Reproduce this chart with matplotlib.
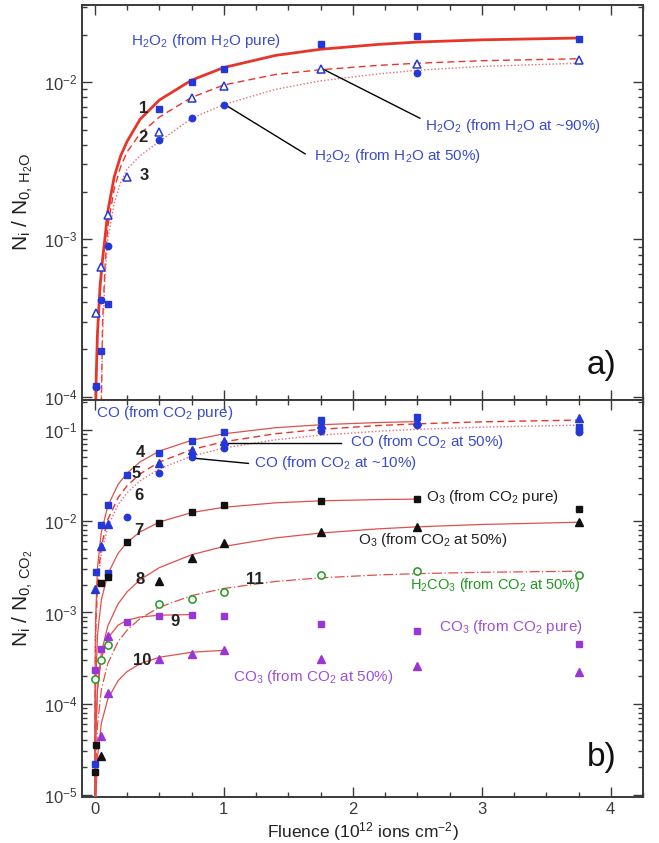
import matplotlib

matplotlib.use("Agg")
import matplotlib.pyplot as plt  # noqa: E402
from matplotlib.ticker import LogLocator, MultipleLocator, NullFormatter  # noqa: E402

plt.rcParams["font.family"] = ["Liberation Sans", "DejaVu Sans"]
plt.rcParams["mathtext.fontset"] = "custom"
plt.rcParams["mathtext.rm"] = "Liberation Sans"
plt.rcParams["mathtext.it"] = "Liberation Sans:italic"
plt.rcParams["mathtext.bf"] = "Liberation Sans:bold"
plt.rcParams["mathtext.default"] = "regular"

# ---- panel a) H2O2 data --------------------------------------------------
h2o2_pure_x = [0.005, 0.05, 0.1, 0.5, 0.75, 1.0, 1.75, 2.5, 3.75]
h2o2_pure_y = [1.16e-4, 1.94e-4, 3.9e-4, 6.8e-3, 1.0e-2, 1.22e-2, 1.76e-2, 1.98e-2, 1.89e-2]
h2o2_90_x = [0.005, 0.05, 0.1, 0.25, 0.5, 0.75, 1.0, 1.75, 2.5, 3.75]
h2o2_90_y = [3.38e-4, 6.7e-4, 1.43e-3, 2.48e-3, 4.8e-3, 7.9e-3, 9.4e-3, 1.22e-2, 1.31e-2, 1.39e-2]
h2o2_50_x = [0.005, 0.05, 0.1, 0.5, 0.75, 1.0, 2.5]
h2o2_50_y = [1.15e-4, 4.1e-4, 9.1e-4, 4.3e-3, 5.9e-3, 7.2e-3, 1.15e-2]

# fit curves 1-3
fit_top_x = [0.004, 0.01, 0.02, 0.04, 0.06, 0.08, 0.1, 0.15, 0.2, 0.25, 0.35, 0.5,
             0.75, 1.0, 1.4, 1.75, 2.2, 2.5, 3.0, 3.75]
fit1_y = [5e-5, 1.3e-4, 2.5e-4, 5e-4, 7.5e-4, 1.05e-3, 1.5e-3, 2.5e-3, 3.4e-3, 4.2e-3,
          5.8e-3, 7.7e-3, 1.03e-2, 1.24e-2, 1.48e-2, 1.62e-2, 1.74e-2, 1.8e-2, 1.86e-2, 1.91e-2]
fit2_x = [0.05, 0.06, 0.08, 0.1, 0.15, 0.2, 0.25, 0.35, 0.5, 0.75, 1.0, 1.4, 1.75, 2.2,
          2.5, 3.0, 3.75]
fit2_y = [9e-5, 3e-4, 7e-4, 1.2e-3, 2.1e-3, 2.9e-3, 3.6e-3, 4.7e-3, 6.0e-3, 8.0e-3, 9.6e-3,
          1.12e-2, 1.2e-2, 1.28e-2, 1.32e-2, 1.37e-2, 1.41e-2]
fit3_y = [9e-5, 2.5e-4, 6e-4, 1.0e-3, 1.7e-3, 2.3e-3, 2.8e-3, 3.4e-3, 4.2e-3, 5.9e-3,
          7.2e-3, 9.0e-3, 1.02e-2, 1.13e-2, 1.19e-2, 1.26e-2, 1.32e-2]

# ---- panel b) CO2 products -------------------------------------------------
co_pure_x = [0.0, 0.005, 0.05, 0.1, 0.1, 0.25, 0.5, 0.75, 1.0, 1.75, 2.5, 3.75, 3.75]
co_pure_y = [2.2e-5, 2.8e-3, 9.1e-3, 1.51e-2, 2.7e-3, 3.2e-2, 5.65e-2, 7.6e-2, 9.4e-2,
             0.13, 0.14, 0.108, 0.101]
co_50_x = [0.0, 0.05, 0.1, 0.5, 0.75, 1.0, 1.75, 2.5, 3.75]
co_50_y = [1.8e-3, 5.3e-3, 9.3e-3, 4.3e-2, 6.0e-2, 7.6e-2, 0.115, 0.125, 0.135]
co_10_x = [0.25, 0.5, 0.75, 1.0, 1.75, 2.5, 3.75]
co_10_y = [1.12e-2, 3.35e-2, 5.0e-2, 6.4e-2, 0.098, 0.112, 0.096]
o3_pure_x = [0.0, 0.005, 0.05, 0.1, 0.25, 0.5, 0.75, 1.0, 1.75, 2.5, 3.75]
o3_pure_y = [1.8e-5, 3.5e-5, 2.12e-3, 2.43e-3, 5.9e-3, 9.5e-3, 1.25e-2, 1.5e-2, 1.67e-2,
             1.75e-2, 1.36e-2]
o3_50_x = [0.05, 0.5, 0.75, 1.0, 1.75, 2.5, 3.75]
o3_50_y = [2.7e-5, 2.23e-3, 3.98e-3, 5.7e-3, 7.7e-3, 8.7e-3, 9.9e-3]
h2co3_x = [0.0, 0.05, 0.1, 0.5, 0.75, 1.0, 1.75, 2.5, 3.75]
h2co3_y = [1.87e-4, 3.0e-4, 4.4e-4, 1.23e-3, 1.41e-3, 1.69e-3, 2.55e-3, 2.87e-3, 2.58e-3]
co3_pure_x = [0.0, 0.05, 0.25, 0.5, 0.75, 1.0, 1.75, 2.5, 3.75]
co3_pure_y = [2.34e-4, 3.95e-4, 7.8e-4, 9.2e-4, 9.4e-4, 9.2e-4, 7.5e-4, 6.2e-4, 4.5e-4]
co3_50_x = [0.05, 0.1, 0.1, 0.5, 0.75, 1.0, 1.75, 2.5, 3.75]
co3_50_y = [4.4e-5, 1.3e-4, 5.5e-4, 3.07e-4, 3.5e-4, 3.9e-4, 3.07e-4, 2.6e-4, 2.2e-4]

# fit curves 4-11 (some stop early)
fit_bot_x = [0.00005, 0.0005, 0.005, 0.02, 0.05, 0.1, 0.18, 0.25, 0.35, 0.5, 0.75, 1.0,
             1.4, 1.75, 2.2, 2.5, 3.0, 3.75]
fit4_y = [7.8e-6, 7.8e-5, 7.8e-4, 3.08e-3, 7.57e-3, 1.47e-2, 2.53e-2, 3.37e-2, 4.46e-2,
          5.87e-2, 7.71e-2, 9.08e-2, 0.1058, 0.1141, 0.1207, 0.1235]
fit5_y = [5.4e-6, 5.4e-5, 5.39e-4, 2.14e-3, 5.29e-3, 1.04e-2, 1.81e-2, 2.45e-2, 3.30e-2,
          4.45e-2, 6.09e-2, 7.43e-2, 9.09e-2, 0.1017, 0.1118, 0.1167, 0.1228, 0.1283]
fit6_y = [4.5e-6, 4.5e-5, 4.49e-4, 1.79e-3, 4.42e-3, 8.68e-3, 1.52e-2, 2.05e-2, 2.77e-2,
          3.75e-2, 5.16e-2, 6.33e-2, 7.80e-2, 8.77e-2, 9.70e-2, 0.1016, 0.1074, 0.1128]
fit7_y = [1.42e-6, 1.42e-5, 1.42e-4, 5.6e-4, 1.37e-3, 2.63e-3, 4.45e-3, 5.87e-3, 7.63e-3,
          9.80e-3, 1.244e-2, 1.421e-2, 1.590e-2, 1.672e-2, 1.727e-2, 1.747e-2]
fit8_y = [3.7e-7, 3.7e-6, 3.67e-5, 1.46e-4, 3.61e-4, 7.10e-4, 1.243e-3, 1.685e-3, 2.28e-3,
          3.10e-3, 4.29e-3, 5.29e-3, 6.56e-3, 7.42e-3, 8.25e-3, 8.68e-3, 9.21e-3, 9.74e-3]
fit9_y = [3.8e-7, 3.8e-6, 3.73e-5, 1.405e-4, 3.13e-4, 5.23e-4, 7.25e-4, 8.21e-4, 8.92e-4,
          9.33e-4, 9.48e-4]
fit10_y = [6.6e-8, 6.6e-7, 6.55e-6, 2.56e-5, 6.08e-5, 1.124e-4, 1.79e-4, 2.25e-4, 2.74e-4,
           3.23e-4, 3.66e-4, 3.85e-4]
fit11_y = [1.45e-7, 1.45e-6, 1.45e-5, 5.74e-5, 1.42e-4, 2.76e-4, 4.78e-4, 6.41e-4, 8.56e-4,
           1.141e-3, 1.530e-3, 1.833e-3, 2.185e-3, 2.396e-3, 2.579e-3, 2.662e-3, 2.756e-3,
           2.832e-3]

BLUE = "#2438d8"
BLUE_TXT = "#3a4ccc"
PURPLE = "#9a35d8"
PURPLE_TXT = "#a050d8"
GREEN = "#1f9a1f"
RED = "#e8352a"
FIT_RED = "#e0504a"
GREY = "#3a3a3a"


def style_axes(ax, ylim):
    ax.set_yscale("log")
    ax.set_xlim(-0.1, 4.25)
    ax.set_ylim(*ylim)
    ax.xaxis.set_major_locator(MultipleLocator(1))
    ax.xaxis.set_minor_locator(MultipleLocator(0.25))
    ax.yaxis.set_major_locator(LogLocator(base=10, numticks=12))
    ax.yaxis.set_minor_locator(LogLocator(base=10, subs=range(2, 10), numticks=12))
    ax.yaxis.set_minor_formatter(NullFormatter())
    ax.tick_params(which="both", direction="in", top=True, right=True, colors=GREY,
                   labelsize=12, width=1.0)
    ax.tick_params(which="major", length=7)
    ax.tick_params(which="minor", length=3.5)
    for s in ax.spines.values():
        s.set_linewidth(1.4)
        s.set_color(GREY)


def mark(ax, x, y, marker, color, hollow=False, ms=4.6):
    ax.plot(x, y, ls="none", marker=marker, ms=ms, color=color,
            mfc="white" if hollow else color, mec=color, mew=1.0 if not hollow else 1.1,
            zorder=5)


def leader(ax, xy0, xy1):
    ax.plot([xy0[0], xy1[0]], [xy0[1], xy1[1]], color="black", lw=1.0, zorder=4)


fig = plt.figure(figsize=(6.59, 8.43), dpi=100)
ax_a = fig.add_axes([0.1244, 0.5255, 0.8513, 0.4686])
ax_b = fig.add_axes([0.1244, 0.0546, 0.8513, 0.4709])

# ---- panel a ----
style_axes(ax_a, (9.5e-5, 3.1e-2))
ax_a.tick_params(labelbottom=False)
ax_a.plot(fit_top_x, fit1_y, color=RED, lw=2.0, zorder=3)
ax_a.plot(fit2_x, fit2_y, color=RED, lw=1.0, ls=(0, (5, 3)), zorder=3)
ax_a.plot(fit2_x, fit3_y, color="#e86a78", lw=1.0, ls=(0, (1, 1.5)), zorder=3)
mark(ax_a, h2o2_pure_x, h2o2_pure_y, "s", BLUE)
mark(ax_a, h2o2_90_x, h2o2_90_y, "^", BLUE, hollow=True, ms=5.2)
mark(ax_a, h2o2_50_x, h2o2_50_y, "o", BLUE)

ax_a.text(0.28, 1.84e-2, "H$_2$O$_2$ (from H$_2$O pure)", color=BLUE_TXT, fontsize=11,
          va="center")
leader(ax_a, (1.77, 1.21e-2), (2.52, 5.9e-3))
ax_a.text(2.56, 5.3e-3, "H$_2$O$_2$ (from H$_2$O at ~90%)", color=BLUE_TXT, fontsize=11,
          va="center")
leader(ax_a, (1.02, 7.1e-3), (1.63, 3.5e-3))
ax_a.text(1.70, 3.4e-3, "H$_2$O$_2$ (from H$_2$O at 50%)", color=BLUE_TXT, fontsize=11,
          va="center")
for lbl, lx, ly in [("1", 0.38, 6.8e-3), ("2", 0.37, 4.45e-3), ("3", 0.38, 2.55e-3)]:
    ax_a.text(lx, ly, lbl, fontsize=12, fontweight="bold", color="#222222",
              ha="center", va="center")
ax_a.text(3.93, 1.57e-4, "a)", fontsize=24, ha="center", va="center", color="#111111")
ax_a.set_ylabel("N$_i$ / N$_{0,\\,H_2O}$", fontsize=15, color="#222222", labelpad=6)

# ---- panel b ----
style_axes(ax_b, (9.5e-6, 0.213))
ax_b.plot(fit_bot_x[:len(fit4_y)], fit4_y, color=FIT_RED, lw=0.9, zorder=3)
ax_b.plot(fit_bot_x, fit5_y, color=RED, lw=1.0, ls=(0, (5, 3)), zorder=3)
ax_b.plot(fit_bot_x, fit6_y, color="#e86a78", lw=1.0, ls=(0, (1, 1.5)), zorder=3)
ax_b.plot(fit_bot_x[:len(fit7_y)], fit7_y, color=FIT_RED, lw=0.9, zorder=3)
ax_b.plot(fit_bot_x, fit8_y, color=FIT_RED, lw=0.9, zorder=3)
ax_b.plot(fit_bot_x[:len(fit9_y)], fit9_y, color=FIT_RED, lw=0.9, zorder=3)
ax_b.plot(fit_bot_x[:len(fit10_y)], fit10_y, color=FIT_RED, lw=0.9, zorder=3)
ax_b.plot(fit_bot_x, fit11_y, color=FIT_RED, lw=0.9, ls=(0, (8, 2, 1, 2)), zorder=3)

mark(ax_b, co_pure_x, co_pure_y, "s", BLUE)
mark(ax_b, co_50_x, co_50_y, "^", BLUE, ms=5.2)
mark(ax_b, co_10_x, co_10_y, "o", BLUE)
mark(ax_b, o3_pure_x, o3_pure_y, "s", "#111111")
mark(ax_b, o3_50_x, o3_50_y, "^", "#111111", ms=5.2)
mark(ax_b, h2co3_x, h2co3_y, "o", GREEN, hollow=True, ms=5.2)
mark(ax_b, co3_pure_x, co3_pure_y, "s", PURPLE)
mark(ax_b, co3_50_x, co3_50_y, "^", PURPLE, ms=5.2)

ax_b.text(0.01, 0.154, "CO (from CO$_2$ pure)", color=BLUE_TXT, fontsize=11, va="center")
leader(ax_b, (1.03, 7.2e-2), (1.91, 7.2e-2))
ax_b.text(1.98, 7.4e-2, "CO (from CO$_2$ at 50%)", color=BLUE_TXT, fontsize=11, va="center")
leader(ax_b, (0.77, 4.9e-2), (1.19, 4.3e-2))
ax_b.text(1.23, 4.3e-2, "CO (from CO$_2$ at ~10%)", color=BLUE_TXT, fontsize=11, va="center")
ax_b.text(2.57, 1.86e-2, "O$_3$ (from CO$_2$ pure)", color="#222222", fontsize=11,
          va="center")
ax_b.text(2.04, 6.2e-3, "O$_3$ (from CO$_2$ at 50%)", color="#222222", fontsize=11,
          va="center")
ax_b.text(2.44, 2.0e-3, "H$_2$CO$_3$ (from CO$_2$ at 50%)", color=GREEN, fontsize=10.5,
          va="center")
ax_b.text(2.67, 6.9e-4, "CO$_3$ (from CO$_2$ pure)", color=PURPLE_TXT, fontsize=11,
          va="center")
ax_b.text(1.07, 1.96e-4, "CO$_3$ (from CO$_2$ at 50%)", color=PURPLE_TXT, fontsize=11,
          va="center")
for lbl, lx, ly in [("4", 0.35, 5.6e-2), ("5", 0.32, 3.35e-2), ("6", 0.34, 1.89e-2),
                    ("7", 0.34, 8.0e-3), ("8", 0.35, 2.28e-3), ("9", 0.62, 7.9e-4),
                    ("10", 0.37, 3.0e-4), ("11", 1.24, 2.28e-3)]:
    ax_b.text(lx, ly, lbl, fontsize=12, fontweight="bold", color="#222222",
              ha="center", va="center")
ax_b.text(3.93, 2.6e-5, "b)", fontsize=24, ha="center", va="center", color="#111111")
ax_b.set_ylabel("N$_i$ / N$_{0,\\,CO_2}$", fontsize=15, color="#222222", labelpad=6)
ax_b.set_xlabel("Fluence (10$^{12}$ ions cm$^{-2}$)", fontsize=12.5, color="#222222",
                labelpad=2)

fig.savefig("out.png", dpi=100)
